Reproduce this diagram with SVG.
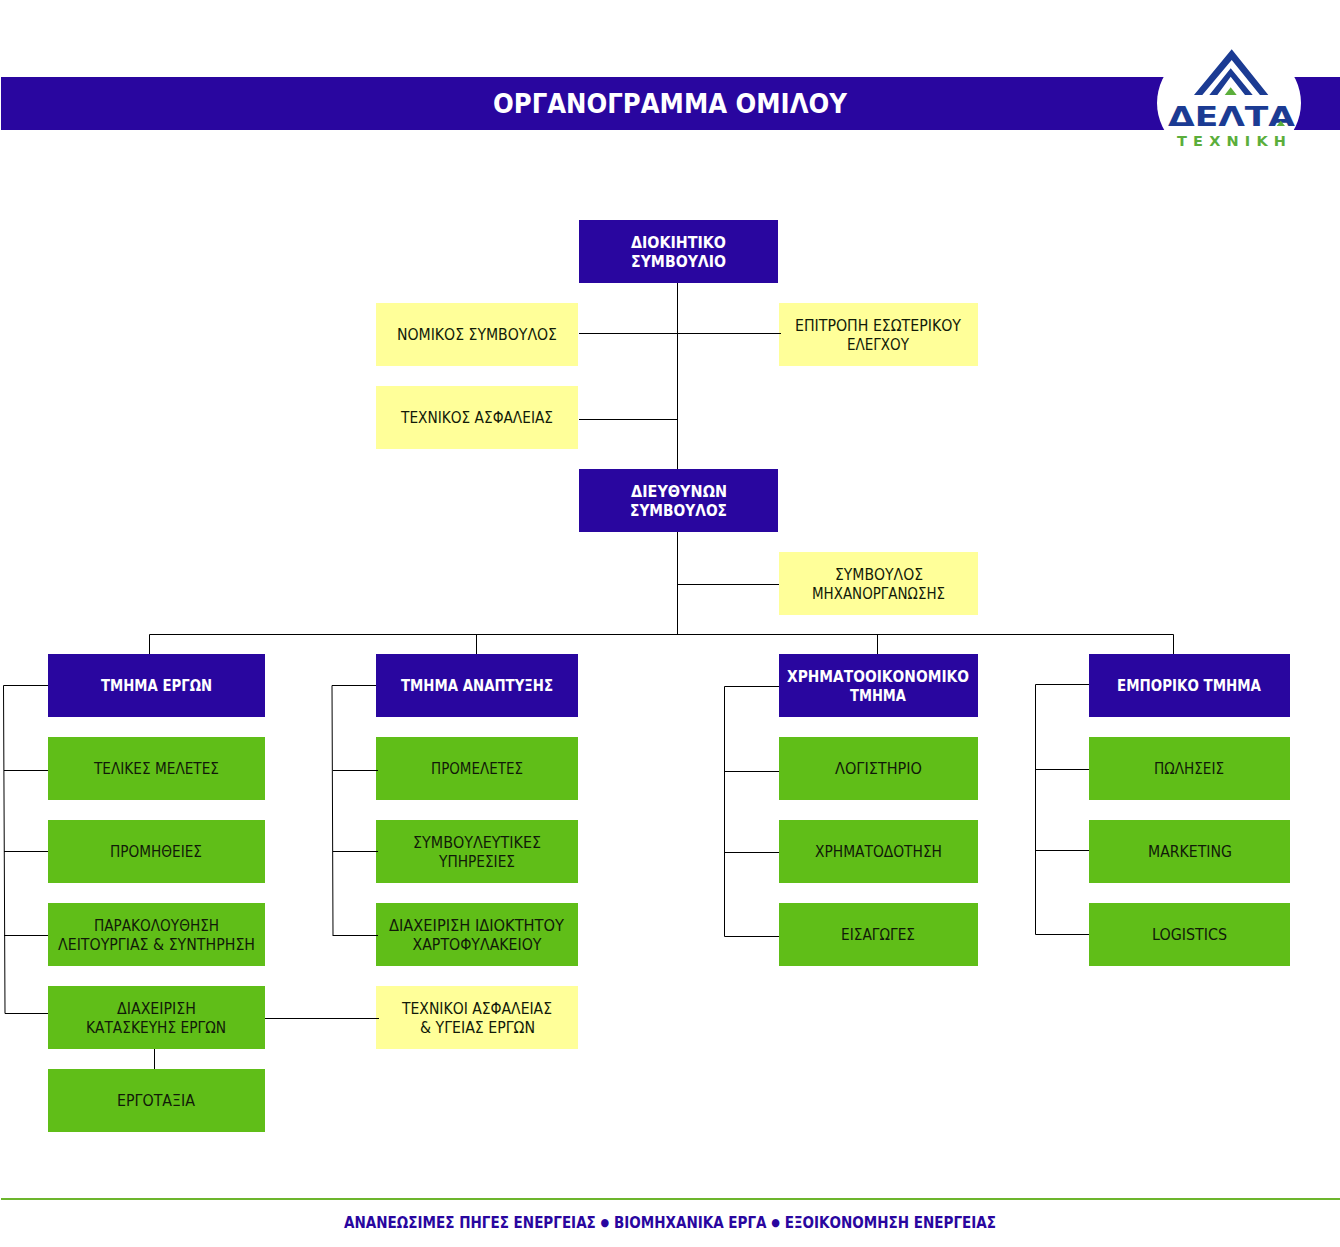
<svg xmlns="http://www.w3.org/2000/svg" width="1340" height="1247" viewBox="0 0 1340 1247">
<style>
text{font-family:"DejaVu Sans Condensed","DejaVu Sans","Liberation Sans",sans-serif;text-anchor:middle}
.t{font-size:15.3px;fill:#111a08}
.h{font-size:15.3px;font-weight:bold;fill:#fff}
.n{fill:#29069f}.g{fill:#60be18}.y{fill:#ffff99}
.c path{fill:none;stroke:#000;stroke-width:1}
</style>
<rect width="1340" height="1247" fill="#fff"/>
<g id="header">
<rect class="n" x="1" y="77" width="1339" height="53"/>
<text x="670" y="113" style="font-size:27px;font-weight:bold;fill:#fff" textLength="354" lengthAdjust="spacingAndGlyphs">ΟΡΓΑΝΟΓΡΑΜΜΑ ΟΜΙΛΟΥ</text>
</g>
<g id="logo">
<ellipse cx="1229" cy="103" rx="72" ry="62" fill="#fff"/>
<polygon fill="#1b3b93" points="1231.7,49.3 1268.3,95 1260,95 1231.7,60 1202.3,95 1194,95"/>
<polygon fill="#1b3b93" points="1230.7,68.3 1252.7,95 1245,95 1230.7,76.7 1217.3,95 1209.3,95"/>
<polygon fill="#5bae3b" points="1230.7,87.3 1236.7,95 1224.7,95"/>
<text x="1231.5" y="126" style="font-size:26px;font-weight:bold;fill:#1b3b93" textLength="127" lengthAdjust="spacingAndGlyphs">ΔΕΛΤΑ</text>
<polygon fill="#5bae3b" points="1280.7,120.7 1285,126 1276.7,126"/>
<text x="1231.5" y="146" style="font-family:'DejaVu Sans',sans-serif;font-size:14.5px;font-weight:bold;fill:#5bae3b" textLength="109">ΤΕΧΝΙΚΗ</text>
</g>
<g id="n1"><rect class="n" x="579" y="220" width="199" height="63"/><text class="h" x="678.5" y="248" textLength="95" lengthAdjust="spacingAndGlyphs">ΔΙΟΚΙΗΤΙΚΟ</text><text class="h" x="678.5" y="267" textLength="95" lengthAdjust="spacingAndGlyphs">ΣΥΜΒΟΥΛΙΟ</text></g>
<g id="n2"><rect class="y" x="376" y="303" width="202" height="63"/><text class="t" x="477" y="340" textLength="160" lengthAdjust="spacingAndGlyphs">ΝΟΜΙΚΟΣ ΣΥΜΒΟΥΛΟΣ</text></g>
<g id="n3"><rect class="y" x="779" y="303" width="199" height="63"/><text class="t" x="878" y="331" textLength="166" lengthAdjust="spacingAndGlyphs">ΕΠΙΤΡΟΠΗ ΕΣΩΤΕΡΙΚΟΥ</text><text class="t" x="878" y="350" textLength="62" lengthAdjust="spacingAndGlyphs">ΕΛΕΓΧΟΥ</text></g>
<g id="n4"><rect class="y" x="376" y="386" width="202" height="63"/><text class="t" x="477" y="423" textLength="152" lengthAdjust="spacingAndGlyphs">ΤΕΧΝΙΚΟΣ ΑΣΦΑΛΕΙΑΣ</text></g>
<g id="n5"><rect class="n" x="579" y="469" width="199" height="63"/><text class="h" x="679" y="497" textLength="96" lengthAdjust="spacingAndGlyphs">ΔΙΕΥΘΥΝΩΝ</text><text class="h" x="678.5" y="516" textLength="97" lengthAdjust="spacingAndGlyphs">ΣΥΜΒΟΥΛΟΣ</text></g>
<g id="n6"><rect class="y" x="779" y="552" width="199" height="63"/><text class="t" x="879" y="580" textLength="88" lengthAdjust="spacingAndGlyphs">ΣΥΜΒΟΥΛΟΣ</text><text class="t" x="878.5" y="599" textLength="133" lengthAdjust="spacingAndGlyphs">ΜΗΧΑΝΟΡΓΑΝΩΣΗΣ</text></g>
<g id="a0"><rect class="n" x="48" y="654" width="217" height="63"/><text class="h" x="156.5" y="691" textLength="111" lengthAdjust="spacingAndGlyphs">ΤΜΗΜΑ ΕΡΓΩΝ</text></g>
<g id="a1"><rect class="g" x="48" y="737" width="217" height="63"/><text class="t" x="156.5" y="774" textLength="125" lengthAdjust="spacingAndGlyphs">ΤΕΛΙΚΕΣ ΜΕΛΕΤΕΣ</text></g>
<g id="a2"><rect class="g" x="48" y="820" width="217" height="63"/><text class="t" x="156" y="857" textLength="92" lengthAdjust="spacingAndGlyphs">ΠΡΟΜΗΘΕΙΕΣ</text></g>
<g id="a3"><rect class="g" x="48" y="903" width="217" height="63"/><text class="t" x="156.5" y="931" textLength="125" lengthAdjust="spacingAndGlyphs">ΠΑΡΑΚΟΛΟΥΘΗΣΗ</text><text class="t" x="156.5" y="950" textLength="197" lengthAdjust="spacingAndGlyphs">ΛΕΙΤΟΥΡΓΙΑΣ &amp; ΣΥΝΤΗΡΗΣΗ</text></g>
<g id="a4"><rect class="g" x="48" y="986" width="217" height="63"/><text class="t" x="156.5" y="1014" textLength="79" lengthAdjust="spacingAndGlyphs">ΔΙΑΧΕΙΡΙΣΗ</text><text class="t" x="156" y="1033" textLength="140" lengthAdjust="spacingAndGlyphs">ΚΑΤΑΣΚΕΥΗΣ ΕΡΓΩΝ</text></g>
<g id="a5"><rect class="g" x="48" y="1069" width="217" height="63"/><text class="t" x="156" y="1106" textLength="78" lengthAdjust="spacingAndGlyphs">ΕΡΓΟΤΑΞΙΑ</text></g>
<g id="b0"><rect class="n" x="376" y="654" width="202" height="63"/><text class="h" x="477" y="691" textLength="152" lengthAdjust="spacingAndGlyphs">ΤΜΗΜΑ ΑΝΑΠΤΥΞΗΣ</text></g>
<g id="b1"><rect class="g" x="376" y="737" width="202" height="63"/><text class="t" x="477" y="774" textLength="92" lengthAdjust="spacingAndGlyphs">ΠΡΟΜΕΛΕΤΕΣ</text></g>
<g id="b2"><rect class="g" x="376" y="820" width="202" height="63"/><text class="t" x="477" y="848" textLength="128" lengthAdjust="spacingAndGlyphs">ΣΥΜΒΟΥΛΕΥΤΙΚΕΣ</text><text class="t" x="477" y="867" textLength="76" lengthAdjust="spacingAndGlyphs">ΥΠΗΡΕΣΙΕΣ</text></g>
<g id="b3"><rect class="g" x="376" y="903" width="202" height="63"/><text class="t" x="476.5" y="931" textLength="175" lengthAdjust="spacingAndGlyphs">ΔΙΑΧΕΙΡΙΣΗ ΙΔΙΟΚΤΗΤΟΥ</text><text class="t" x="477" y="950" textLength="129" lengthAdjust="spacingAndGlyphs">ΧΑΡΤΟΦΥΛΑΚΕΙΟΥ</text></g>
<g id="b4"><rect class="y" x="376" y="986" width="202" height="63"/><text class="t" x="477" y="1014" textLength="150" lengthAdjust="spacingAndGlyphs">ΤΕΧΝΙΚΟΙ ΑΣΦΑΛΕΙΑΣ</text><text class="t" x="477.5" y="1033" textLength="115" lengthAdjust="spacingAndGlyphs">&amp; ΥΓΕΙΑΣ ΕΡΓΩΝ</text></g>
<g id="c0"><rect class="n" x="779" y="654" width="199" height="63"/><text class="h" x="878" y="682" textLength="182" lengthAdjust="spacingAndGlyphs">ΧΡΗΜΑΤΟΟΙΚΟΝΟΜΙΚΟ</text><text class="h" x="878" y="701" textLength="56" lengthAdjust="spacingAndGlyphs">ΤΜΗΜΑ</text></g>
<g id="c1"><rect class="g" x="779" y="737" width="199" height="63"/><text class="t" x="878.5" y="774" textLength="87" lengthAdjust="spacingAndGlyphs">ΛΟΓΙΣΤΗΡΙΟ</text></g>
<g id="c2"><rect class="g" x="779" y="820" width="199" height="63"/><text class="t" x="878.5" y="857" textLength="127" lengthAdjust="spacingAndGlyphs">ΧΡΗΜΑΤΟΔΟΤΗΣΗ</text></g>
<g id="c3"><rect class="g" x="779" y="903" width="199" height="63"/><text class="t" x="878" y="940" textLength="74" lengthAdjust="spacingAndGlyphs">ΕΙΣΑΓΩΓΕΣ</text></g>
<g id="d0"><rect class="n" x="1089" y="654" width="201" height="63"/><text class="h" x="1189" y="691" textLength="144" lengthAdjust="spacingAndGlyphs">ΕΜΠΟΡΙΚΟ ΤΜΗΜΑ</text></g>
<g id="d1"><rect class="g" x="1089" y="737" width="201" height="63"/><text class="t" x="1189" y="774" textLength="70" lengthAdjust="spacingAndGlyphs">ΠΩΛΗΣΕΙΣ</text></g>
<g id="d2"><rect class="g" x="1089" y="820" width="201" height="63"/><text class="t" x="1190" y="857" textLength="84" lengthAdjust="spacingAndGlyphs">MARKETING</text></g>
<g id="d3"><rect class="g" x="1089" y="903" width="201" height="63"/><text class="t" x="1189.5" y="940" textLength="75" lengthAdjust="spacingAndGlyphs">LOGISTICS</text></g>
<g id="connectors" class="c">
<path d="M677.5 283V469M579 333.5H781M579 419.5H677.5M677.5 532V634.5M677.5 584.5H779M149.5 634.5H1173.5M149.5 634.5V654M476.5 634.5V654M877.5 634.5V654M1173.5 634.5V654"/>
<path d="M48 685.5H3.5L5 1013.5H48M4 770.5H48M4 851.5H48M4 935.5H48"/>
<path d="M376 685.5H332L333 936M333 770.5H378M333 851.5H378M333 935.5H378"/>
<path d="M779 686.5H724.5V936.5H779M724.5 771.5H779M724.5 852.5H779"/>
<path d="M1089 684.5H1035.5V934.5H1089M1035.5 769.5H1089M1035.5 850.5H1089"/>
<path d="M265 1018.5H379M154.5 1049V1069"/>
</g>
<g id="footer">
<rect x="1" y="1198" width="1339" height="2" fill="#6cb52d"/>
<text x="670" y="1228" style="font-size:15px;font-weight:bold;fill:#29069f" textLength="652" lengthAdjust="spacingAndGlyphs">ΑΝΑΝΕΩΣΙΜΕΣ ΠΗΓΕΣ ΕΝΕΡΓΕΙΑΣ <tspan font-size="11" dy="-2">●</tspan><tspan dy="2"> ΒΙΟΜΗΧΑΝΙΚΑ ΕΡΓΑ </tspan><tspan font-size="11" dy="-2">●</tspan><tspan dy="2"> ΕΞΟΙΚΟΝΟΜΗΣΗ ΕΝΕΡΓΕΙΑΣ</tspan></text>
</g>
</svg>
